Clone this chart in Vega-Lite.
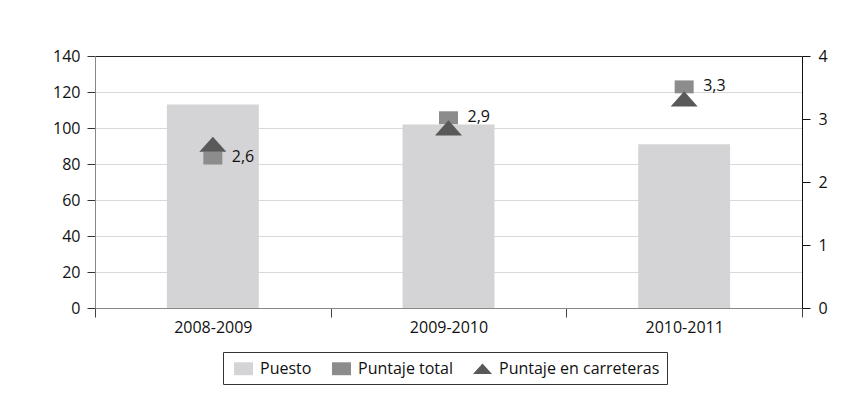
{
  "$schema": "https://vega.github.io/schema/vega-lite/v6.json",
  "width": 707,
  "height": 252,
  "autosize": "none",
  "padding": {"left": 95, "top": 56, "right": 64, "bottom": 112},
  "background": "white",
  "config": {
    "font": "Open Sans",
    "locale": {"number": {"decimal": ",", "thousands": ".", "grouping": [3], "currency": ["", " €"]}},
    "view": {"stroke": null},
    "axis": {"labelFont": "Open Sans", "labelFontSize": 16, "labelColor": "#111", "title": null},
    "legend": {
      "orient": "none",
      "legendX": 128,
      "legendY": 296,
      "direction": "horizontal",
      "strokeColor": "#333",
      "padding": 7,
      "symbolSize": 361,
      "symbolOpacity": 1,
      "symbolStrokeWidth": 0,
      "symbolOffset": 4,
      "labelFont": "Open Sans",
      "labelFontSize": 16,
      "labelColor": "#111",
      "labelOffset": 7,
      "labelLimit": 400,
      "columnPadding": 16
    }
  },
  "data": {
    "values": [
      {"periodo": "2008-2009", "puesto": 113, "puntaje_total": 2.38, "puntaje_carreteras": 2.6},
      {"periodo": "2009-2010", "puesto": 102, "puntaje_total": 3.02, "puntaje_carreteras": 2.86},
      {"periodo": "2010-2011", "puesto": 91, "puntaje_total": 3.51, "puntaje_carreteras": 3.32}
    ]
  },
  "encoding": {
    "x": {
      "field": "periodo",
      "type": "nominal",
      "sort": null,
      "scale": {"paddingInner": 0, "paddingOuter": 0},
      "axis": {
        "orient": "bottom",
        "tickBand": "extent",
        "tickSize": 9,
        "tickColor": "#444",
        "domainColor": "#888",
        "labelPadding": 2,
        "labelAngle": 0,
        "grid": false,
        "title": null
      }
    }
  },
  "layer": [
    {
      "mark": {"type": "bar", "width": {"band": 0.39}},
      "encoding": {
        "y": {
          "field": "puesto",
          "type": "quantitative",
          "scale": {"domain": [0, 140]},
          "axis": {
            "orient": "left",
            "values": [0, 20, 40, 60, 80, 100, 120, 140],
            "tickSize": 8,
            "tickColor": "#333",
            "domainColor": "#888",
            "labelPadding": 7,
            "grid": true,
            "gridColor": {"condition": {"test": "datum.value === 140", "value": "#222"}, "value": "#d9d9d9"},
            "title": null
          }
        },
        "color": {
          "datum": "Puesto",
          "type": "nominal",
          "title": null,
          "scale": {
            "domain": ["Puesto", "Puntaje total", "Puntaje en carreteras"],
            "range": ["#d4d4d6", "#8c8c8c", "#595959"]
          }
        }
      }
    },
    {
      "mark": {"type": "point", "filled": true, "size": 361, "opacity": 1, "strokeWidth": 0},
      "encoding": {
        "y": {
          "field": "puntaje_total",
          "type": "quantitative",
          "scale": {"domain": [0, 4]},
          "axis": {
            "orient": "right",
            "values": [0, 1, 2, 3, 4],
            "tickSize": 8,
            "tickColor": "#111",
            "domainColor": "#111",
            "labelPadding": 8,
            "grid": false,
            "title": null
          }
        },
        "color": {"datum": "Puntaje total", "type": "nominal", "title": null},
        "shape": {
          "datum": "Puntaje total",
          "type": "nominal",
          "title": null,
          "scale": {
            "domain": ["Puesto", "Puntaje total", "Puntaje en carreteras"],
            "range": ["M-1,-0.68H1V0.68H-1Z", "M-1,-0.68H1V0.68H-1Z", "M-1,0.56L0,-0.56L1,0.56Z"]
          }
        }
      }
    },
    {
      "mark": {"type": "point", "filled": true, "size": 729, "opacity": 1, "strokeWidth": 0},
      "encoding": {
        "y": {
          "field": "puntaje_carreteras",
          "type": "quantitative",
          "scale": {"domain": [0, 4]},
          "axis": null
        },
        "color": {"datum": "Puntaje en carreteras", "type": "nominal", "title": null},
        "shape": {"datum": "Puntaje en carreteras", "type": "nominal", "title": null}
      }
    },
    {
      "mark": {"type": "text", "align": "left", "baseline": "middle", "dx": 19, "dy": -1, "fontSize": 16, "font": "Open Sans", "color": "#111"},
      "encoding": {
        "y": {
          "field": "puntaje_total",
          "type": "quantitative",
          "scale": {"domain": [0, 4]},
          "axis": null
        },
        "text": {"field": "puntaje_carreteras", "type": "quantitative", "format": ".1f"}
      }
    }
  ],
  "resolve": {"scale": {"y": "independent"}}
}
